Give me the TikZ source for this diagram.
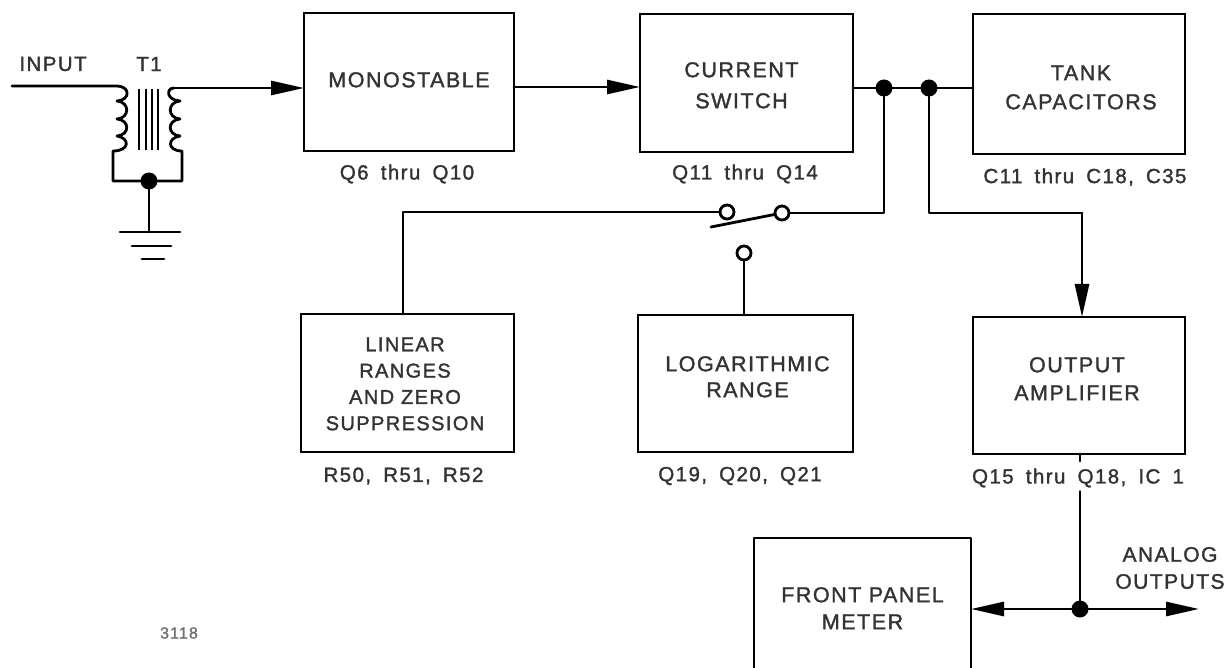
\documentclass[tikz,border=0pt]{standalone}
\usepackage{fontspec}
\setmainfont[LetterSpace=7,FakeBold=1.5]{Liberation Sans}
\newfontfamily\tagfont[LetterSpace=7,WordSpace=1.7,FakeBold=1.5]{Liberation Sans}
\usetikzlibrary{arrows.meta,calc}
% text inside a block, moved by dx,dy from the block centre
\newcommand\placed[3]{\raisebox{\dimexpr#2-7pt\relax}[0pt][0pt]{\makebox[0pt][c]{\hspace*{\dimexpr2\dimexpr#1\relax\relax}\begin{tabular}[c]{@{}c@{}}#3\end{tabular}}}}
\definecolor{ink}{gray}{0.2}
\tikzset{
  wire/.style={line width=2.8pt,draw=black,line cap=round,line join=round},
  arr/.style={wire,-{Triangle[length=33pt,width=14pt]}},
  block/.style={draw=black,line width=2.8pt,rectangle,outer sep=0pt,inner sep=0pt,text=ink,
    font=\fontsize{21.5}{27}\selectfont},
  openblock/.style={rectangle,outer sep=0pt,inner sep=0pt,text=ink,
    font=\fontsize{21.5}{27}\selectfont},
  tag/.style={inner sep=0pt,outer sep=0pt,text=ink,font=\tagfont\fontsize{20.5}{27}\selectfont},
  plain/.style={inner sep=0pt,outer sep=0pt,text=ink,font=\fontsize{20.5}{27}\selectfont},
  tinytag/.style={inner sep=0pt,outer sep=0pt,text=ink!70,font=\fontsize{16}{18}\selectfont},
  dot/.style={circle,fill=black,inner sep=0pt,minimum size=17pt,outer sep=0pt},
  contact/.style={circle,draw=black,fill=white,line width=2.8pt,inner sep=0pt,minimum size=14pt,outer sep=0pt},
  core/.style={line width=2pt,draw=black}
}
\begin{document}
\begin{tikzpicture}[x=1pt,y=-1pt]
\useasboundingbox (0,0) rectangle (1231,668);

% blocks
\node[block,minimum width=210pt,minimum height=138pt] (mono) at (409,82) {\placed{0pt}{2pt}{MONOSTABLE}};
\node[block,minimum width=213pt,minimum height=138pt] (cs) at (746.5,83) {\placed{-5pt}{-2.5pt}{CURRENT\\[4pt]SWITCH}};
\node[block,minimum width=212pt,minimum height=140pt] (tank) at (1079,84) {\placed{2pt}{-3.5pt}{TANK\\[2pt]CAPACITORS}};
\node[block,minimum width=213pt,minimum height=138pt,font=\fontsize{20}{27}\selectfont] (lin) at (407.5,383) {\placed{-2.5pt}{-0.5pt}{LINEAR\\[-0.7pt]RANGES\\[-0.7pt]AND ZERO\\[-0.7pt]SUPPRESSION}};
\node[block,minimum width=215pt,minimum height=137pt] (log) at (745.5,383.5) {\placed{2pt}{6.5pt}{LOGARITHMIC\\[-1pt]RANGE}};
\node[block,minimum width=212pt,minimum height=137pt] (amp) at (1079,385.5) {\placed{-2pt}{6.5pt}{OUTPUT\\[1pt]AMPLIFIER}};
\node[openblock,minimum width=217pt,minimum height=130pt] (fp) at (862.5,603) {\placed{0pt}{-5.5pt}{FRONT PANEL\\METER}};
\draw[wire,line cap=butt] (fp.south west) -- (fp.north west) -- (fp.north east) -- (fp.south east);

% block captions
\node[tag] (l1) at (407,174) {Q6 thru Q10};
\node[tag] (l2) at (745,174) {Q11 thru Q14};
\node[tag] (l3) at (1085,177) {C11 thru C18, C35};
\node[tag] (l4) at (403.5,476) {R50, R51, R52};
\node[tag] (l5) at (740,476) {Q19, Q20, Q21};
\node[tag] (l6) at (1078,478) {Q15 thru Q18, IC 1};

% other texts
\node[plain] (tin) at (53,64) {INPUT};
\node[plain] (tt1) at (149,64) {T1};
\node[plain,align=center,font=\fontsize{21}{27}\selectfont] (tout) at (1170,568) {ANALOG\\OUTPUTS};
\node[tinytag] (tnum) at (179,633) {3118};

% transformer
\coordinate (in) at (12,86);
\coordinate (c1a) at (117,86);
\coordinate (c1b) at (117,101);
\coordinate (c1c) at (117,119);
\coordinate (c1d) at (117,136);
\coordinate (c1e) at (113,151);
\coordinate (c2a) at (180,88);
\coordinate (c2b) at (180,101);
\coordinate (c2c) at (180,119);
\coordinate (c2d) at (180,136);
\coordinate (c2e) at (182,151);
\node[dot] (tdot) at (149,181) {};
\coordinate (gnd) at (149,232);

\draw[wire] (in) -- (c1a)
  .. controls (130,86) and (131,100) .. (c1b)
  .. controls (130,102) and (130,118) .. (c1c)
  .. controls (130,120) and (130,135) .. (c1d)
  .. controls (130,138) and (130,151) .. (c1e)
  -- (c1e |- tdot) -- (tdot);
\draw[arr] (mono.west |- c2a) ++(-130,0) coordinate (c2s) -- (mono.west |- c2a);
\draw[wire] (c2s) .. controls (166,88) and (166,100) .. (c2b)
  .. controls (167,102) and (167,118) .. (c2c)
  .. controls (167,120) and (167,135) .. (c2d)
  .. controls (167,138) and (167,151) .. (c2e)
  -- (c2e |- tdot) -- (tdot);
\foreach \cx/\nm in {139/a,146/b,152/c,158/d}{
  \coordinate (k\nm1) at (\cx,89);
  \coordinate (k\nm2) at (\cx,150);
  \draw[core] (k\nm1) -- (k\nm2);
}
% ground
\draw[wire] (tdot) -- (gnd);
\coordinate (g1l) at (120,232); \coordinate (g1r) at (180,232);
\coordinate (g2l) at (132,246); \coordinate (g2r) at (171,246);
\coordinate (g3l) at (142,259); \coordinate (g3r) at (164,259);
\draw[wire] (g1l) -- (g1r);
\draw[wire] (g2l) -- (g2r);
\draw[wire] (g3l) -- (g3r);

% main connectors
\draw[arr] (mono.east |- 0,87) -- (cs.west |- 0,87);
\node[dot] (d1) at (884,88) {};
\node[dot] (d2) at (929,88) {};
\draw[wire] (cs.east |- d1) -- (d1) -- (d2) -- (tank.west |- d2);

% switch
\node[contact] (sa) at (727,212) {};
\node[contact] (sb) at (782,213) {};
\node[contact] (sc) at (744,253) {};
\coordinate (blade) at (711,227);
\draw[wire] (d1) -- (d1 |- sb) -- (sb);
\draw[wire] (sa) -- (403,212) coordinate (lt) -- (lt |- lin.north);
\draw[wire] (blade) -- (sb);
\draw[wire] (sc) -- (sc |- log.north);

% output amplifier
\coordinate (oc) at (1082,213);
\draw[wire] (d2) -- (d2 |- oc) -- (oc);
\draw[arr] (oc) -- (oc |- amp.north);

% outputs
\node[dot] (d3) at (1080,609) {};
\coordinate (oe) at (1199,609);
\coordinate (stub) at (1080,461);
\draw[wire] (amp.south -| stub) -- (stub);
\draw[wire] (l6.south -| d3) ++(0,4) -- (d3);
\draw[arr] (d3) -- (fp.east |- d3);
\draw[arr] (d3) -- (oe);
\end{tikzpicture}
\end{document}
